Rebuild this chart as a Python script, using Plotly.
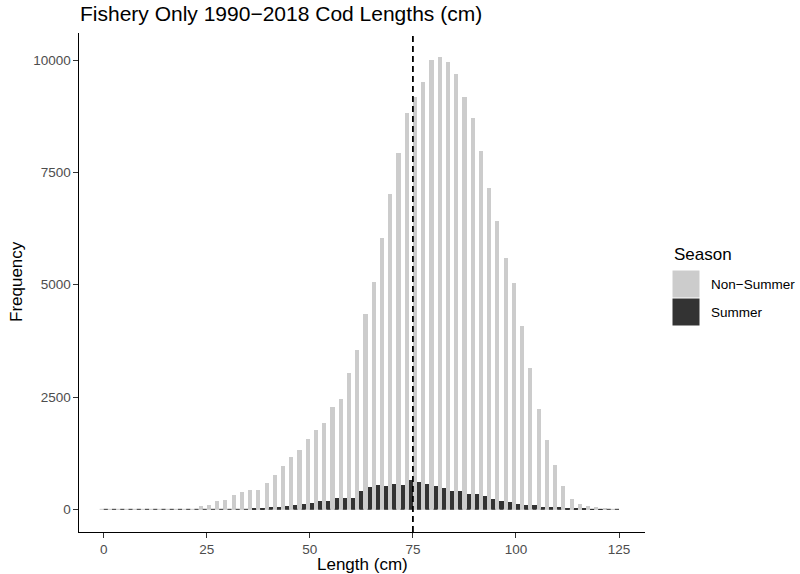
import plotly.graph_objects as go

# ---- data ----
length_bins = [0, 2, 4, 6, 8, 10, 12, 14, 16, 18, 20, 22, 24, 26, 28, 30, 32, 34, 36, 38,
               40, 42, 44, 46, 48, 50, 52, 54, 56, 58, 60, 62, 64, 66, 68, 70, 72, 74, 76, 78,
               80, 82, 84, 86, 88, 90, 92, 94, 96, 98, 100, 102, 104, 106, 108, 110, 112, 114,
               116, 118, 120, 122, 124]

non_summer = [0, 0, 0, 0, 0, 0, 0, 0, 0, 0, 0, 0,
              70, 97, 182, 205, 315, 383, 428, 428, 580, 759, 960, 1161, 1317, 1562, 1763,
              1920, 2277, 2460, 3040, 3549, 4353, 5052, 6049, 7031, 7924, 8817, 9174, 9516,
              10000, 10067, 9963, 9688, 9174, 8705, 7969, 7165, 6429, 5603, 5045, 4085, 3147,
              2240, 1540, 990, 513, 223, 112, 67, 45, 15, 5]

summer = [0, 0, 0, 0, 0, 0, 0, 0, 0, 0, 0, 0, 0, 0, 0, 0, 0, 0,
          8, 15, 50, 50, 70, 95, 115, 138, 182, 182, 250, 250, 250, 402, 495, 536, 513, 558,
          536, 647, 603, 558, 513, 469, 402, 402, 335, 335, 290, 223, 179, 156, 112, 89, 89,
          45, 45, 45, 22, 10, 8, 5, 3, 0, 0]

season_names = ["Non\u2212Summer", "Summer"]
season_colors = ["#CCCCCC", "#333333"]
mean_length = 75
x_ticks = [0, 25, 50, 75, 100, 125]
y_ticks = [0, 2500, 5000, 7500, 10000]
y_tick_labels = ["0", "2500", "5000", "7500", "10000"]

FONT = "Liberation Sans, Arial, Helvetica, sans-serif"

fig = go.Figure()
for name, vals, col in zip(season_names, [non_summer, summer], season_colors):
    fig.add_trace(go.Bar(x=length_bins, y=vals, name=name, marker_color=col,
                         marker_line_width=0, showlegend=False))

# thin baseline of zero-height bars (as ggplot renders them)
half = [(-1, 0), (0, 1)]
for (a, b), col in zip(half, season_colors):
    xs, ys = [], []
    for c in length_bins:
        xs += [c + a, c + b, None]
        ys += [0, 0, None]
    fig.add_trace(go.Scatter(x=xs, y=ys, mode="lines", line=dict(color=col, width=1),
                             hoverinfo="skip", showlegend=False))

ymax = max(non_summer) + 33
W, H = 800, 574
L, R, T, B = 79, 155, 33, 42
pw, ph = W - L - R, H - T - B

def px(xp):
    return (xp - L) / pw

def py(yp):
    return (H - B - yp) / ph

fig.add_shape(type="line", x0=mean_length, x1=mean_length, xref="x", yref="paper",
              y0=0, y1=1, line=dict(color="black", width=1.8, dash="6px,4px"))

# axis titles
fig.add_annotation(text="Length (cm)", x=px(362), y=py(564), xref="paper", yref="paper",
                   xanchor="center", yanchor="middle", showarrow=False,
                   font=dict(family=FONT, size=17, color="black"))
fig.add_annotation(text="Frequency", x=px(16), y=py(282), xref="paper", yref="paper",
                   xanchor="center", yanchor="middle", showarrow=False, textangle=-90,
                   font=dict(family=FONT, size=17, color="black"))

# legend (ggplot style)
fig.add_annotation(text="Season", x=px(672), y=py(254), xref="paper", yref="paper",
                   xanchor="left", yanchor="middle", showarrow=False,
                   font=dict(family=FONT, size=17, color="black"))
key_tops = [270.5, 298.5]
for i, (name, col) in enumerate(zip(season_names, season_colors)):
    t = key_tops[i]
    fig.add_shape(type="rect", xref="paper", yref="paper", x0=px(672.5), x1=px(699.5),
                  y0=py(t + 27), y1=py(t), fillcolor=col, line=dict(width=0))
    fig.add_annotation(text=name, x=px(709), y=py(t + 13.5), xref="paper", yref="paper",
                       xanchor="left", yanchor="middle", showarrow=False,
                       font=dict(family=FONT, size=13.5, color="black"))

fig.update_layout(
    width=W, height=H,
    margin=dict(l=L, r=R, t=T, b=B, autoexpand=False),
    paper_bgcolor="white", plot_bgcolor="white",
    barmode="group", bargap=0, bargroupgap=0,
    showlegend=False,
    font=dict(family=FONT),
    title=dict(text="Fishery Only 1990\u22122018 Cod Lengths (cm)", x=px(80), xref="paper",
               xanchor="left", y=1 - 14 / H, yref="container", yanchor="middle",
               font=dict(family=FONT, size=21, color="black")),
    xaxis=dict(range=[-6, 131.3], tickvals=x_ticks, ticks="outside", ticklen=4.5,
               tickwidth=1.1, tickcolor="#333333", showline=True, linecolor="black",
               linewidth=1.2, showgrid=False, zeroline=False, automargin=False,
               tickfont=dict(family=FONT, size=13.5, color="#4D4D4D")),
    yaxis=dict(range=[-0.05 * ymax, 1.05 * ymax], tickvals=y_ticks, ticktext=y_tick_labels,
               ticks="outside", ticklen=4.5, tickwidth=1.1, tickcolor="#333333",
               showline=True, linecolor="black", linewidth=1.2, showgrid=False,
               zeroline=False, automargin=False,
               tickfont=dict(family=FONT, size=13.5, color="#4D4D4D")),
)

fig.write_html("out.html", config={"displayModeBar": False},
               post_script="document.body.style.margin='0';document.body.style.padding='0';")
